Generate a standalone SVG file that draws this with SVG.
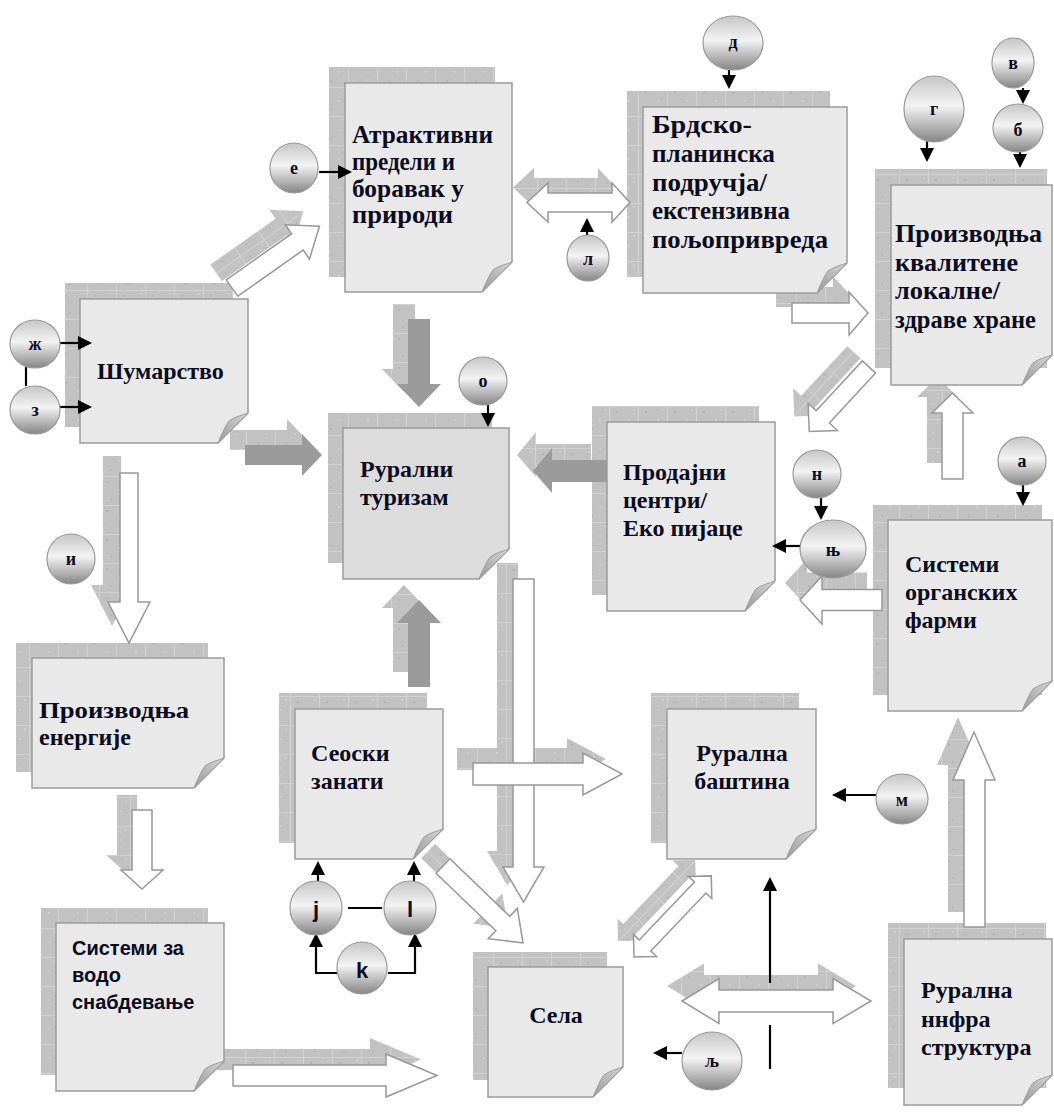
<svg xmlns="http://www.w3.org/2000/svg" xmlns:xlink="http://www.w3.org/1999/xlink" width="1054" height="1113" viewBox="0 0 1054 1113">
<style>
.sh{fill:url(#tex);stroke:none}
.box{fill:#e9e9e9;stroke:#9c9c9c;stroke-width:1.5}
.box2{fill:#dcdcdc;stroke:#9c9c9c;stroke-width:1.5}
.wa{fill:#fff;stroke:#999;stroke-width:1.5}
.da{fill:#9b9b9b;stroke:none}
.t{font-family:"Liberation Serif","Times New Roman",serif;font-weight:bold;font-size:24px;fill:#0b0b1f}
.tb{font-size:25px}
.ts{font-family:"Liberation Sans",Arial,sans-serif;font-weight:bold;font-size:20px;fill:#0b0b1f}
.cl{font-family:"Liberation Serif","Times New Roman",serif;font-weight:bold;font-size:18px;fill:#0b0b1f;text-anchor:middle}
.cj{font-family:"Liberation Sans",Arial,sans-serif;font-weight:bold;font-size:22px;fill:#0b0b1f;text-anchor:middle}
.c{fill:url(#cg);stroke:#9a9a9a;stroke-width:1.2}
.ln{fill:none;stroke:#000;stroke-width:2.2}
.ar{marker-end:url(#ah)}
</style>
<defs>
<pattern id="tex" width="29" height="29" patternUnits="userSpaceOnUse">
<rect width="29" height="29" fill="#c2c2c2"/>
<rect x="7" y="5" width="2" height="2" fill="#b5b5b5"/><rect x="19" y="13" width="2" height="2" fill="#cdcdcd"/><rect x="11" y="22" width="2" height="2" fill="#b7b7b7"/><rect x="24" y="3" width="2" height="2" fill="#cccccc"/>
<path d="M0 0.5H29M0.5 0V29" stroke="#d2d2d2" stroke-width="1"/>
</pattern>
<linearGradient id="cg" x1="0" y1="0" x2="0" y2="1">
<stop offset="0" stop-color="#c6c6c6"/><stop offset="0.45" stop-color="#f3f3f3"/><stop offset="1" stop-color="#858585"/>
</linearGradient>
<linearGradient id="fg" x1="0" y1="1" x2="1" y2="0">
<stop offset="0" stop-color="#9a9a9a"/><stop offset="1" stop-color="#d6d6d6"/>
</linearGradient>
<path id="flap" d="M30,0 C25,2 16,4 11,8 C8,12 4,20 0,30 Z" fill="url(#fg)" stroke="#9c9c9c" stroke-width="1"/>
<marker id="ah" markerWidth="14" markerHeight="14" refX="4" refY="7" orient="auto" markerUnits="userSpaceOnUse"><path d="M0,0 L14,7 L0,14 Z" fill="#000"/></marker>
<polygon id="a1" transform="translate(232 288) rotate(-35.2)" points="0,-10 80,-10 80,-21 107,0 80,21 80,10 0,10"/>
<polygon id="a2" points="245,445 302,445 302,434 322,455 302,476 302,465 245,465"/>
<polygon id="a3" points="408,319 430,319 430,384 441,384 419,407 397,384 408,384"/>
<polygon id="a4" points="607,460 552,460 552,448 533,471 552,493 552,482 607,482"/>
<polygon id="a5" points="408,687 408,623 397,623 419,600 441,623 430,623 430,687"/>
<polygon id="a6" points="513,579 534,579 534,867 544,867 523.5,902 503,867 513,867"/>
<polygon id="a7" points="473,763 583,763 583,753 622,774 583,795 583,785 473,785"/>
<polygon id="a8" transform="translate(443 866) rotate(43.9)" points="0,-10 83,-10 83,-21 111,0 83,21 83,10 0,10"/>
<polygon id="a9" points="120,473 138,473 138,602 150,602 129,643 108,602 120,602"/>
<polygon id="a10" points="132,810 152,810 152,870 163,870 142,889 121,870 132,870"/>
<polygon id="a11" points="233,1065 386,1065 386,1054 437,1075.5 386,1097 386,1086 233,1086"/>
<polygon id="a12" points="527,202.5 548,183 548,193 612,193 612,183 630,202.5 612,222 612,212 548,212 548,222"/>
<polygon id="a13" points="792,303 849,303 849,292 868,313 849,335 849,323 792,323"/>
<polygon id="a14" transform="translate(869 367) rotate(132.8)" points="0,-9 68,-9 68,-20 88,0 68,20 68,9 0,9"/>
<polygon id="a15" points="882,589.5 822,589.5 822,576 800,600 822,624 822,610.5 882,610.5"/>
<polygon id="a16" points="942,479 942,413 932,413 952.5,393 973,413 963,413 963,479"/>
<polygon id="a17" points="964,927 964,780 953,780 974,732 995,780 985,780 985,927"/>
<polygon id="a18" points="682,1001 719,978.5 719,990 833,990 833,978.5 871,1001 833,1023.5 833,1012 719,1012 719,1023.5"/>
<polygon id="a19" transform="translate(634 957) rotate(-46.4)" points="0,0 16,-16 16,-8 96,-8 96,-16 112,0 96,16 96,8 16,8 16,16"/>
</defs>
<rect width="1054" height="1113" fill="#fff"/>

<g id="box-shadows">
<rect class="sh" x="65" y="283" width="168" height="144"/>
<rect class="sh" x="329" y="67" width="166" height="210"/>
<rect class="sh" x="627" y="91" width="203" height="186"/>
<rect class="sh" x="875" y="169" width="172" height="199"/>
<rect class="sh" x="328" y="413" width="164" height="150"/>
<rect class="sh" x="592" y="406" width="167" height="189"/>
<rect class="sh" x="873" y="505" width="169" height="190"/>
<rect class="sh" x="16" y="643" width="192" height="129"/>
<rect class="sh" x="279" y="693" width="148" height="150"/>
<rect class="sh" x="651" y="693" width="148" height="150"/>
<rect class="sh" x="41" y="908" width="167" height="167"/>
<rect class="sh" x="473" y="952" width="134" height="128"/>
<rect class="sh" x="888" y="923" width="158" height="165"/>
</g>

<g id="connectors">
<g id="arrow-shadows">
<use xlink:href="#a1" class="sh" transform="translate(-16 -15)"/>
<use xlink:href="#a2" class="sh" transform="translate(-15 -15)"/>
<use xlink:href="#a3" class="sh" transform="translate(-15 -15)"/>
<use xlink:href="#a4" class="sh" transform="translate(-16 -16)"/>
<use xlink:href="#a5" class="sh" transform="translate(-15 -15)"/>
<use xlink:href="#a6" class="sh" transform="translate(-16 -16)"/>
<use xlink:href="#a7" class="sh" transform="translate(-16 -15)"/>
<use xlink:href="#a8" class="sh" transform="translate(-15 -15)"/>
<use xlink:href="#a9" class="sh" transform="translate(-17 -17)"/>
<use xlink:href="#a10" class="sh" transform="translate(-15 -15)"/>
<use xlink:href="#a11" class="sh" transform="translate(-16 -16)"/>
<use xlink:href="#a12" class="sh" transform="translate(-14 -15)"/>
<use xlink:href="#a13" class="sh" transform="translate(-16 -16)"/>
<use xlink:href="#a14" class="sh" transform="translate(-15 -15)"/>
<use xlink:href="#a15" class="sh" transform="translate(-15 -17)"/>
<use xlink:href="#a16" class="sh" transform="translate(-15 -16)"/>
<use xlink:href="#a17" class="sh" transform="translate(-16 -15)"/>
<use xlink:href="#a18" class="sh" transform="translate(-15 -15)"/>
<use xlink:href="#a19" class="sh" transform="translate(-16 -16)"/>
</g>
<use xlink:href="#a2" class="da"/>
<use xlink:href="#a3" class="da"/>
<use xlink:href="#a4" class="da"/>
<use xlink:href="#a5" class="da"/>
<use xlink:href="#a1" class="wa"/>
<use xlink:href="#a6" class="wa"/>
<use xlink:href="#a7" class="wa"/>
<use xlink:href="#a8" class="wa"/>
<use xlink:href="#a9" class="wa"/>
<use xlink:href="#a10" class="wa"/>
<use xlink:href="#a11" class="wa"/>
<use xlink:href="#a12" class="wa"/>
<use xlink:href="#a13" class="wa"/>
<use xlink:href="#a14" class="wa"/>
<use xlink:href="#a15" class="wa"/>
<use xlink:href="#a16" class="wa"/>
<use xlink:href="#a17" class="wa"/>
<use xlink:href="#a18" class="wa"/>
<use xlink:href="#a19" class="wa"/>
</g>

<g id="node-sumarstvo">
<polygon class="box" points="80,299 248,299 248,413 218,443 80,443"/><use xlink:href="#flap" x="218" y="413"/>
<text class="t" x="97" y="379">Шумарство</text>
</g>
<g id="node-atraktivni">
<polygon class="box" points="345,83 512,83 512,262 482,292 345,292"/><use xlink:href="#flap" x="482" y="262"/>
<text class="t tb"><tspan x="352" y="143" textLength="141" lengthAdjust="spacingAndGlyphs">Атрактивни</tspan><tspan x="352" y="170" textLength="103" lengthAdjust="spacingAndGlyphs">предели и</tspan><tspan x="352" y="197" textLength="112" lengthAdjust="spacingAndGlyphs">боравак у</tspan><tspan x="352" y="223" textLength="101" lengthAdjust="spacingAndGlyphs">природи</tspan></text>
</g>
<g id="node-brdsko">
<polygon class="box" points="643,107 847,107 847,263 817,293 643,293"/><use xlink:href="#flap" x="817" y="263"/>
<text class="t tb"><tspan x="652" y="133" textLength="100" lengthAdjust="spacingAndGlyphs">Брдско-</tspan><tspan x="652" y="162" textLength="123" lengthAdjust="spacingAndGlyphs">планинска</tspan><tspan x="652" y="191" textLength="115" lengthAdjust="spacingAndGlyphs">подручја/</tspan><tspan x="652" y="219" textLength="138" lengthAdjust="spacingAndGlyphs">екстензивна</tspan><tspan x="652" y="248" textLength="176" lengthAdjust="spacingAndGlyphs">пољопривреда</tspan></text>
</g>
<g id="node-proizvodnja-hrane">
<polygon class="box" points="891,185 1052,185 1052,355 1022,385 891,385"/><use xlink:href="#flap" x="1022" y="355"/>
<text class="t tb"><tspan x="895" y="242" textLength="147" lengthAdjust="spacingAndGlyphs">Производња</tspan><tspan x="895" y="271" textLength="123" lengthAdjust="spacingAndGlyphs">квалитене</tspan><tspan x="895" y="299" textLength="105" lengthAdjust="spacingAndGlyphs">локалне/</tspan><tspan x="895" y="328" textLength="141" lengthAdjust="spacingAndGlyphs">здраве хране</tspan></text>
</g>
<g id="node-ruralni-turizam">
<polygon class="box2" points="343,428 509,428 509,549 479,579 343,579"/><use xlink:href="#flap" x="479" y="549"/>
<text class="t"><tspan x="360" y="477">Рурални</tspan><tspan x="360" y="505">туризам</tspan></text>
</g>
<g id="node-prodajni">
<polygon class="box" points="607,422 775,422 775,581 745,611 607,611"/><use xlink:href="#flap" x="745" y="581"/>
<text class="t"><tspan x="623" y="480">Продајни</tspan><tspan x="623" y="508">центри/</tspan><tspan x="623" y="536">Еко пијаце</tspan></text>
</g>
<g id="node-organske">
<polygon class="box" points="888,520 1052,520 1052,681 1022,711 888,711"/><use xlink:href="#flap" x="1022" y="681"/>
<text class="t"><tspan x="905" y="572">Системи</tspan><tspan x="905" y="600">органских</tspan><tspan x="905" y="628">фарми</tspan></text>
</g>
<g id="node-energija">
<polygon class="box" points="32,658 224,658 224,758 194,788 32,788"/><use xlink:href="#flap" x="194" y="758"/>
<text class="t"><tspan x="39" y="718" textLength="150" lengthAdjust="spacingAndGlyphs">Производња</tspan><tspan x="39" y="745">енергије</tspan></text>
</g>
<g id="node-zanati">
<polygon class="box" points="295,709 443,709 443,829 413,859 295,859"/><use xlink:href="#flap" x="413" y="829"/>
<text class="t"><tspan x="311" y="761">Сеоски</tspan><tspan x="311" y="789">занати</tspan></text>
</g>
<g id="node-bastina">
<polygon class="box" points="667,709 816,709 816,829 786,859 667,859"/><use xlink:href="#flap" x="786" y="829"/>
<text class="t" text-anchor="middle"><tspan x="742" y="761">Рурална</tspan><tspan x="742" y="789">баштина</tspan></text>
</g>
<g id="node-vodo">
<polygon class="box" points="56,923 224,923 224,1061 194,1091 56,1091"/><use xlink:href="#flap" x="194" y="1061"/>
<text class="ts"><tspan x="72" y="955">Системи за</tspan><tspan x="72" y="982">водо</tspan><tspan x="72" y="1009">снабдевање</tspan></text>
</g>
<g id="node-sela">
<polygon class="box" points="488,967 623,967 623,1067 593,1097 488,1097"/><use xlink:href="#flap" x="593" y="1067"/>
<text class="t" x="556" y="1023" text-anchor="middle">Села</text>
</g>
<g id="node-infra">
<polygon class="box" points="904,939 1052,939 1052,1075 1022,1105 904,1105"/><use xlink:href="#flap" x="1022" y="1075"/>
<text class="t"><tspan x="921" y="998">Рурална</tspan><tspan x="921" y="1027">ннфра</tspan><tspan x="921" y="1055">структура</tspan></text>
</g>

<g id="line-connectors">
<path class="ln ar" d="M60 343H82"/>
<path class="ln ar" d="M60 407H82"/>
<path class="ln" d="M26 366V386"/>
<path class="ln ar" d="M319 172H342"/>
<path class="ln ar" d="M729 70V79"/>
<path class="ln ar" d="M587 235V228"/>
<path class="ln ar" d="M927 141V152"/>
<path class="ln ar" d="M1023 88V94"/>
<path class="ln ar" d="M1020 152V158"/>
<path class="ln ar" d="M488 405V417"/>
<path class="ln ar" d="M821 498V510"/>
<path class="ln ar" d="M800 546H782"/>
<path class="ln ar" d="M1023 485V496"/>
<path class="ln ar" d="M876 795H842"/>
<path class="ln ar" d="M770 983V887"/>
<path class="ln" d="M770 1025V1069"/>
<path class="ln ar" d="M682 1053H663"/>
<path class="ln ar" d="M318 881V871"/>
<path class="ln ar" d="M414 881V871"/>
<path class="ln" d="M348 908H382"/>
<path class="ln ar" d="M337 973H316V943"/>
<path class="ln ar" d="M388 973H415V943"/>
</g>

<g id="node-zh"><ellipse class="c" cx="35" cy="344" rx="25" ry="24"/><text class="cl" x="35" y="350">ж</text></g>
<g id="node-z"><ellipse class="c" cx="35" cy="410" rx="25" ry="24"/><text class="cl" x="35" y="416">з</text></g>
<g id="node-e"><ellipse class="c" cx="294" cy="168" rx="24" ry="25"/><text class="cl" x="294" y="174">е</text></g>
<g id="node-d"><ellipse class="c" cx="733" cy="43" rx="30" ry="27"/><text class="cl" x="733" y="48">д</text></g>
<g id="node-l-cyr"><ellipse class="c" cx="588" cy="258" rx="21" ry="23"/><text class="cl" x="588" y="265">л</text></g>
<g id="node-g"><ellipse class="c" cx="934" cy="109" rx="30" ry="33"/><text class="cl" x="934" y="115">г</text></g>
<g id="node-v"><ellipse class="c" cx="1013" cy="63" rx="21" ry="25"/><text class="cl" x="1013" y="69">в</text></g>
<g id="node-b"><ellipse class="c" cx="1018" cy="128" rx="25" ry="24"/><text class="cl" x="1018" y="136">б</text></g>
<g id="node-o"><ellipse class="c" cx="483" cy="381" rx="24" ry="24"/><text class="cl" x="483" y="387">о</text></g>
<g id="node-n"><ellipse class="c" cx="817" cy="474" rx="24" ry="24"/><text class="cl" x="817" y="480">н</text></g>
<g id="node-nj"><ellipse class="c" cx="833" cy="549" rx="33" ry="29"/><text class="cl" x="833" y="556">њ</text></g>
<g id="node-a"><ellipse class="c" cx="1022" cy="461" rx="24" ry="24"/><text class="cl" x="1022" y="467">а</text></g>
<g id="node-i"><ellipse class="c" cx="71" cy="559" rx="24" ry="25"/><text class="cl" x="71" y="565">и</text></g>
<g id="node-m"><ellipse class="c" cx="902" cy="799" rx="26" ry="25"/><text class="cl" x="902" y="806">м</text></g>
<g id="node-lj"><ellipse class="c" cx="712" cy="1061" rx="30" ry="29"/><text class="cl" x="712" y="1067">љ</text></g>
<g id="node-j"><ellipse class="c" cx="316" cy="908" rx="26" ry="27"/><text class="cj" x="316" y="917">j</text></g>
<g id="node-l"><ellipse class="c" cx="410" cy="908" rx="26" ry="27"/><text class="cj" x="410" y="917">l</text></g>
<g id="node-k"><ellipse class="c" cx="362" cy="968" rx="25" ry="26"/><text class="cj" x="362" y="978">k</text></g>
</svg>
